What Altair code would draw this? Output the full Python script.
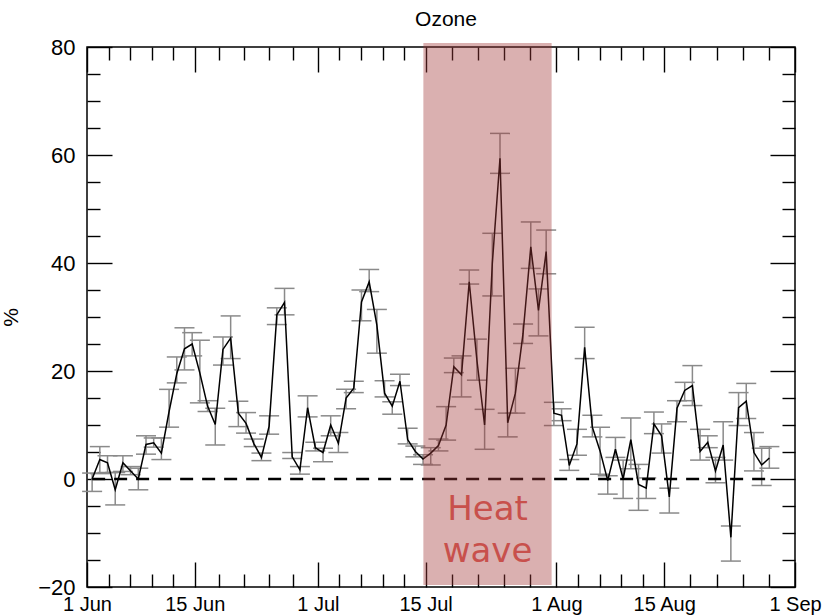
import datetime as dt

import altair as alt
import pandas as pd

# Daily ozone anomaly (%), one value per day from 1 June, with error-bar limits
values = [
    0.0, 3.6, 3.0, -2.0, 3.0, 1.5, 0.0, 6.4, 6.7, 4.8,
    12.5, 19.5, 24.1, 25.0, 19.6, 13.5, 10.1, 24.0, 26.1, 12.2,
    10.3, 6.6, 4.0, 9.8, 30.4, 32.7, 4.1, 1.7, 13.2, 5.8,
    4.9, 10.0, 6.6, 15.0, 16.8, 32.8, 36.5, 28.5, 15.9, 13.5,
    18.1, 7.3, 5.1, 3.7, 4.8, 6.2, 10.0, 20.8, 19.3, 36.5,
    22.0, 10.0, 39.9, 59.4, 10.4, 15.9, 27.0, 43.0, 31.2, 42.1,
    12.2, 11.8, 2.5, 6.5, 24.4, 9.6, 5.2, -0.3, 5.5, 0.0,
    7.3, -1.0, -1.7, 10.2, 8.0, -3.3, 13.1, 16.4, 17.3, 5.1,
    6.8, 1.5, 6.3, -10.8, 13.2, 14.4, 4.9, 2.6, 3.9,
]
lows = [
    -2.3, 1.0, 1.2, -4.8, 1.4, 0.8, -2.0, 4.6, 5.9, 3.6,
    9.6, 17.8, 20.2, 22.8, 14.1, 12.5, 6.3, 21.1, 22.3, 9.7,
    8.5, 6.0, 3.4, 8.3, 28.6, 30.4, 3.8, 0.9, 11.5, 5.2,
    3.2, 8.0, 4.9, 13.0, 16.0, 29.3, 34.7, 23.3, 15.2, 12.0,
    17.3, 6.5, 4.1, 2.7, 2.6, 5.2, 7.2, 19.7, 15.2, 36.1,
    18.3, 5.5, 33.9, 56.6, 7.8, 12.2, 25.1, 39.0, 26.5, 38.0,
    9.9, 10.8, 1.6, 4.4, 22.3, 7.8, 0.9, -2.8, 4.0, -3.6,
    1.9, -5.8, -3.6, 8.4, 4.8, -6.3, 10.6, 14.5, 13.6, 3.5,
    5.8, -0.7, 3.5, -15.2, 9.9, 11.2, 1.5, -1.2, 2.0,
]
highs = [
    1.1, 6.0, 4.3, 1.2, 4.3, 2.3, 2.0, 8.0, 7.6, 7.6,
    16.6, 22.6, 28.0, 27.1, 25.7, 14.5, 13.1, 26.3, 30.2, 14.4,
    12.3, 7.4, 4.8, 11.7, 31.7, 35.3, 4.9, 2.3, 15.4, 6.8,
    5.7, 11.7, 8.6, 16.6, 18.1, 35.0, 38.8, 31.4, 18.2, 14.3,
    19.4, 9.4, 6.1, 4.5, 5.8, 7.4, 13.4, 22.4, 22.8, 38.7,
    25.9, 12.9, 45.5, 64.0, 12.2, 20.5, 28.7, 47.6, 35.2, 46.1,
    14.2, 13.0, 3.6, 9.2, 28.1, 11.8, 9.6, 0.6, 7.7, 3.5,
    11.3, 2.7, 0.2, 12.4, 10.2, -1.7, 14.5, 17.9, 21.0, 9.2,
    8.0, 4.0, 10.6, -8.7, 16.0, 17.7, 8.6, 5.7, 6.0,
]

# Heat-wave period
heat_start = dt.datetime(2006, 7, 14, 17, 0)
heat_end = dt.datetime(2006, 7, 31, 9, 0)

first_day = dt.datetime(2006, 6, 1, 16, 0)
fmt = "%Y-%m-%dT%H:%M:%S"
df = pd.DataFrame({
    "date": [(first_day + dt.timedelta(days=i)).strftime(fmt) for i in range(len(values))],
    "value": values,
    "lo": lows,
    "hi": highs,
})
heat = pd.DataFrame({
    "start": [heat_start.strftime(fmt)],
    "end": [heat_end.strftime(fmt)],
    "mid": [(heat_start + (heat_end - heat_start) / 2).strftime(fmt)],
    "label": ["Heat\nwave"],
})


def to_dt(t):
    return alt.DateTime(year=t.year, month=t.month, date=t.day, hours=t.hour,
                        minutes=t.minute, seconds=t.second,
                        milliseconds=t.microsecond // 1000)


# Major date ticks on the 1st and 15th, each interval split into five
majors = [dt.datetime(2006, m, d) for m, d in
          [(6, 1), (6, 15), (7, 1), (7, 15), (8, 1), (8, 15), (9, 1)]]
x_tick_dates = []
for a, b in zip(majors[:-1], majors[1:]):
    for k in range(5):
        x_tick_dates.append(a + (b - a) * k / 5)
x_tick_dates.append(majors[-1])
x_ticks = [to_dt(t) for t in x_tick_dates]
y_ticks = list(range(-20, 81, 5))

FONT = "Liberation Sans"
IS_MAJOR_X = ("(date(datum.value) === 1 || date(datum.value) === 15) "
              "&& hours(datum.value) === 0 && minutes(datum.value) === 0")
IS_MAJOR_Y = "datum.value % 20 === 0"
# negative tick lengths point the ticks into the plot frame
X_TICK_LEN = {"expr": f"{IS_MAJOR_X} ? -25 : -13"}
Y_TICK_LEN = {"expr": f"{IS_MAJOR_Y} ? -25 : -13"}

common = dict(domain=False, grid=False, tickColor="black", tickWidth=1.4,
              labelColor="black", labelFont=FONT, labelOverlap=False,
              labelFlush=False, labelBound=False)

x_bottom = alt.Axis(orient="bottom", values=x_ticks, tickSize=X_TICK_LEN,
                    labelPadding=32, labelFontSize=20, title=None,
                    labelExpr=f"{IS_MAJOR_X} ? timeFormat(datum.value, '%-d %b') : ''",
                    **common)
x_top = alt.Axis(orient="top", values=x_ticks, tickSize=X_TICK_LEN,
                 labels=False, title=None, **common)
y_left = alt.Axis(orient="left", values=y_ticks, tickSize=Y_TICK_LEN,
                  labelPadding=37, labelFontSize=22, title="%",
                  titleFont=FONT, titleFontSize=21, titleFontWeight="normal",
                  titleColor="black", titlePadding=16,
                  labelExpr=f"{IS_MAJOR_Y} ? datum.label : ''", **common)
y_right = alt.Axis(orient="right", values=y_ticks, tickSize=Y_TICK_LEN,
                   labels=False, title=None, **common)

xs = alt.Scale(domain=[to_dt(majors[0]), to_dt(majors[-1])], nice=False)
ys = alt.Scale(domain=[-20, 80], nice=False, zero=False)

base = alt.Chart(df)

bars = base.mark_rule(color="#8a8a8a", strokeWidth=1.5).encode(
    x=alt.X("date:T", scale=xs, axis=x_top),
    y=alt.Y("lo:Q", scale=ys, axis=y_right),
    y2="hi:Q",
)
cap_lo = base.mark_tick(orient="horizontal", size=20, thickness=1.5,
                        color="#8a8a8a", opacity=1).encode(
    x=alt.X("date:T", scale=xs, axis=None),
    y=alt.Y("lo:Q", scale=ys, axis=None),
)
cap_hi = base.mark_tick(orient="horizontal", size=20, thickness=1.5,
                        color="#8a8a8a", opacity=1).encode(
    x=alt.X("date:T", scale=xs, axis=None),
    y=alt.Y("hi:Q", scale=ys, axis=None),
)
line = base.mark_line(color="black", strokeWidth=1.5).encode(
    x=alt.X("date:T", scale=xs, axis=x_bottom),
    y=alt.Y("value:Q", scale=ys, axis=y_left),
)
zero = base.mark_line(color="black", strokeWidth=2.6, strokeDash=[13, 9]).encode(
    x=alt.X("date:T", scale=xs, axis=None),
    y=alt.Y(datum=0, type="quantitative", scale=ys, axis=None),
)
band = alt.Chart(heat).mark_rect(color="#a33a3a", opacity=0.4).encode(
    x=alt.X("start:T", scale=xs, axis=None),
    x2="end:T",
    y=alt.value(-4),
    y2=alt.value(538),
)
# first line is anchored at the given value, the second follows one line below
band_text = alt.Chart(heat).mark_text(
    lineBreak="\n", lineHeight=42, fontSize=34, font="DejaVu Sans",
    color="#c8504c", align="center", baseline="middle",
).encode(
    x=alt.X("mid:T", scale=xs, axis=None),
    y=alt.Y(datum=-5.8, type="quantitative", scale=ys, axis=None),
    text="label:N",
)

chart = (
    alt.layer(bars, cap_lo, cap_hi, line, zero, band, band_text)
    .resolve_axis(x="independent", y="independent")
    .properties(
        width=708,
        height=540,
        title=alt.TitleParams("Ozone", font=FONT, fontSize=21, fontWeight="normal",
                              color="black", anchor="middle", frame="group",
                              offset=6, dx=5),
        autosize=alt.AutoSizeParams(type="none"),
        padding={"left": 87, "top": 47, "right": 32, "bottom": 29},
        background="white",
    )
    .configure_view(stroke="black", strokeWidth=1.5)
)

chart.save("out.html", embed_options={"renderer": "svg", "actions": False})
